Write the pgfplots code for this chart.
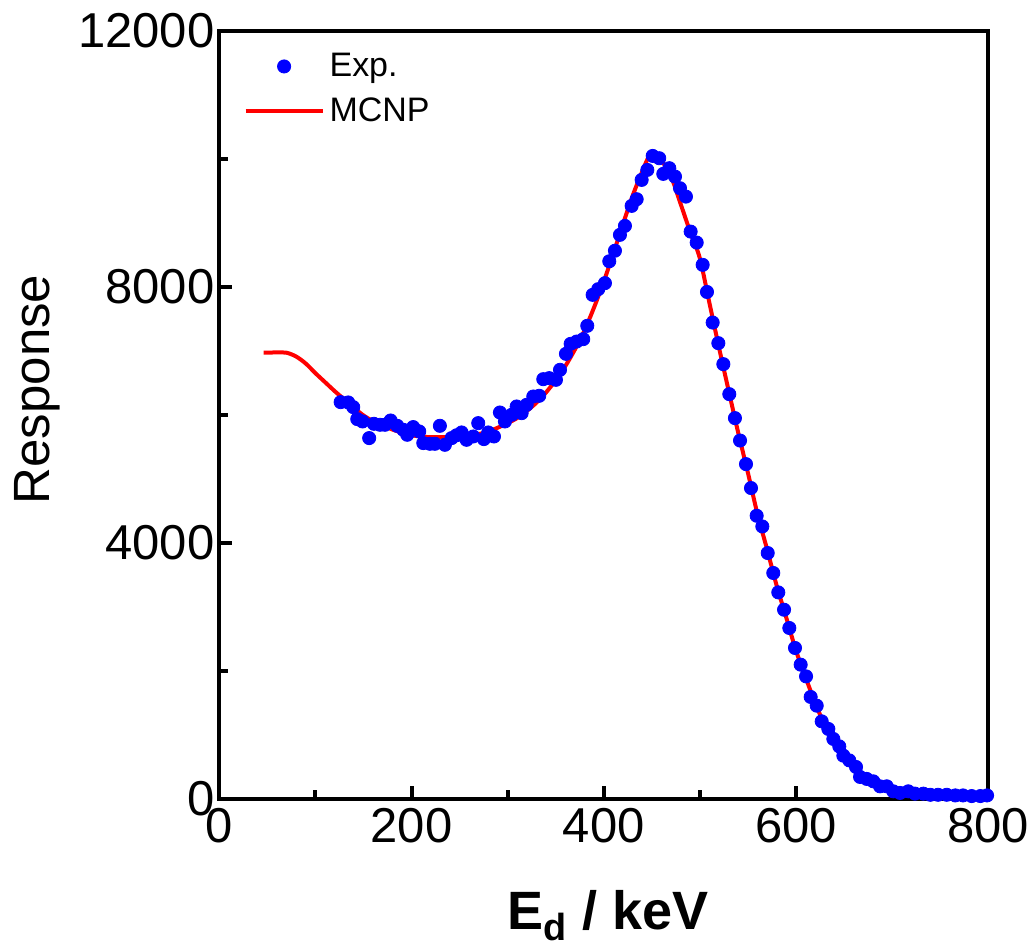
\documentclass[border=0pt]{standalone}
\usepackage{pgfplots}
\pgfplotsset{compat=1.18}
\usepackage{pgfplotstable}
\usepackage{fontspec}
\setmainfont{Liberation Sans}

% measured response (dots)
\pgfplotstableread{
x y
126.2 6198
134.1 6193
139.3 6120
143.5 5933
149.0 5896
155.9 5636
160.8 5859
167.1 5844
172.3 5844
178.2 5911
185.1 5828
191.4 5766
195.5 5688
201.7 5808
208.0 5740
212.2 5558
219.1 5547
224.3 5547
229.5 5828
234.7 5531
241.7 5636
246.8 5680
252.1 5724
257.3 5609
264.2 5661
269.4 5870
275.3 5620
279.8 5724
285.8 5661
292.0 6036
297.2 5896
304.2 6000
309.4 6130
314.6 6026
319.8 6156
326.7 6286
332.9 6297
337.1 6557
343.3 6573
350.3 6547
354.5 6703
360.7 6953
365.6 7109
371.8 7145
378.7 7183
382.9 7391
388.5 7875
394.3 7964
401.3 8058
405.8 8400
411.7 8565
416.9 8813
422.1 8953
429.1 9266
434.3 9370
439.5 9672
445.4 9828
451.0 10047
457.8 10011
462.0 9766
468.3 9855
474.2 9724
479.4 9542
485.6 9411
490.5 8864
496.8 8692
503.0 8344
507.5 7920
513.4 7442
519.3 7120
524.5 6792
530.7 6323
536.6 5948
541.9 5598
548.1 5229
553.3 4855
559.2 4422
565.1 4255
570.7 3839
576.5 3527
581.7 3224
587.7 2953
593.2 2667
599.1 2355
605.0 2094
610.6 1911
615.4 1589
621.7 1453
626.9 1208
633.8 1089
639.0 933
645.2 817
649.4 672
655.6 598
662.6 495
666.8 339
673.7 308
680.6 270
687.6 192
694.6 192
701.4 114
708.4 89
717.0 114
724.0 78
732.7 78
740.0 60
748.0 60
757.0 60
766.0 50
774.0 50
783.0 40
792.0 40
799.0 50
}\expdata

% MCNP simulation (line)
\pgfplotstableread{
x y
46 6970
60 6975
70 6970
80 6910
90 6800
100 6650
110 6510
120 6370
130 6240
140 6110
150 5990
160 5900
170 5830
180 5770
190 5720
200 5680
210 5660
220 5650
230 5650
240 5650
250 5660
260 5680
270 5700
280 5740
290 5800
300 5870
310 5950
320 6060
330 6190
340 6350
350 6540
360 6760
370 7020
380 7320
390 7680
400 8080
410 8520
420 8980
430 9420
440 9800
448 10060
455 10050
460 9980
470 9730
480 9300
490 8860
500 8450
510 7750
520 7050
530 6380
540 5720
550 5100
560 4450
570 3900
580 3330
590 2830
600 2320
610 1900
620 1500
630 1150
640 880
650 660
660 480
670 340
680 230
690 155
700 100
710 60
720 40
740 20
760 10
800 5
}\mcnpdata

\begin{document}
\begin{tikzpicture}
\path[use as bounding box] (-109.75pt,-74.5pt) rectangle (406pt,399.5pt);
\begin{axis}[
  at={(0,0)}, anchor=south west,
  scale only axis,
  width=384.5pt, height=384pt,
  xmin=0, xmax=800, ymin=0, ymax=12000,
  xtick={0,200,...,800}, minor xtick={100,300,500,700},
  ytick={0,4000,8000,12000}, minor ytick={2000,6000,10000},
  xtick pos=lower, ytick pos=left,
  tick align=inside,
  major tick length=6.5pt, minor tick length=4.5pt,
  every tick/.style={black, line width=2pt},
  axis line style={line width=2pt},
  scaled ticks=false,
  /pgf/number format/.cd, 1000 sep={}, assume math mode=true,
  /pgfplots/.cd,
  tick label style={font=\fontsize{24.5}{24.5}\selectfont},
  yticklabel style={xshift=1pt},
  xticklabel style={yshift=-1.5pt},
  ylabel={Response},
  ylabel style={at={(axis description cs:-0.2204,0.533)}, rotate=0, anchor=base, font=\fontsize{25.5}{25.5}\selectfont},
  xlabel={\textbf{E\textsubscript{d} / keV}},
  xlabel style={at={(axis description cs:0.505,-0.171)}, anchor=base, font=\fontsize{27}{27}\selectfont},
  legend style={at={(axis description cs:0.031,0.978)}, anchor=north west, draw=none, fill=none,
    font=\fontsize{17}{17}\selectfont, row sep=4pt, inner sep=0pt,
    nodes={inner sep=2.5pt}},
  legend cell align=left,
  legend image code/.code={\draw[mark repeat=2,mark phase=2,#1] plot coordinates {(0pt,0pt)(19.25pt,0pt)(38.5pt,0pt)};},
]
\addplot[only marks, mark=*, mark size=3.3pt, blue, mark options={fill=blue, draw=blue}] table[x=x,y=y] {\expdata};
\addlegendentry{Exp.}
\addplot[red, line width=2pt, no marks, smooth] table[x=x,y=y] {\mcnpdata};
\addlegendentry{MCNP}
\end{axis}
\end{tikzpicture}
\end{document}
